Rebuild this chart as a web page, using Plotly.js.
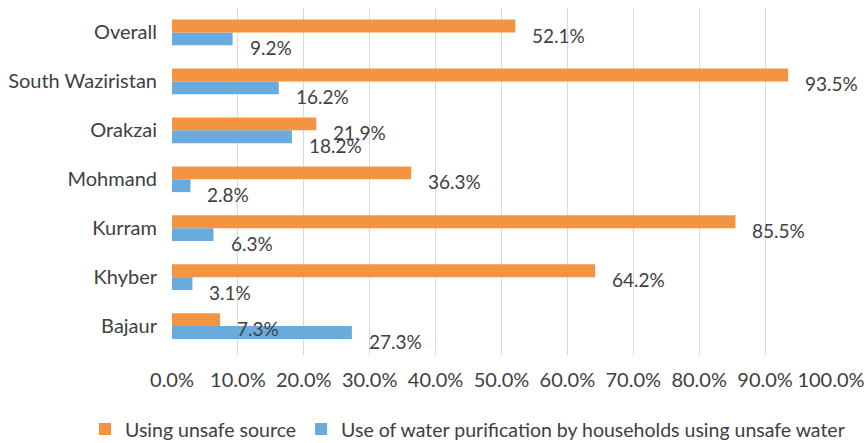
<!DOCTYPE html>
<html><head><meta charset="utf-8">
<script src="https://cdn.plot.ly/plotly-3.0.1.min.js"></script>
<style>html,body{margin:0;padding:0;background:#fff;}#chart{width:868px;height:443px;}</style>
</head><body><div id="chart"></div>
<script>
const categories = ["Bajaur","Khyber","Kurram","Mohmand","Orakzai","South Waziristan","Overall"];
const unsafeSource = [7.3, 64.2, 85.5, 36.3, 21.9, 93.5, 52.1];
const purification = [27.3, 3.1, 6.3, 2.8, 18.2, 16.2, 9.2];
const seriesNames = ["Using unsafe source", "Use of water purification by households using unsafe water"];
const xTicks = [0,10,20,30,40,50,60,70,80,90,100];

const orange = "#F39443", blue = "#6AABDE", txt = "#404040";
const FONT = "Lato, 'Liberation Sans', sans-serif";
const bargap = 0.475;
const half = (1 - bargap) / 4;

const traces = [
  {type:"bar", orientation:"h", name:seriesNames[1], y:categories, x:purification,
   marker:{color:blue}, legendrank:2, hoverinfo:"x"},
  {type:"bar", orientation:"h", name:seriesNames[0], y:categories, x:unsafeSource,
   marker:{color:orange}, legendrank:1, hoverinfo:"x"}
];

const annotations = [];
categories.forEach((c,i)=>{
  annotations.push({x:unsafeSource[i], y:i+half, xref:"x", yref:"y", text:unsafeSource[i].toFixed(1)+"%",
    showarrow:false, xanchor:"left", yanchor:"middle", xshift:15, yshift:-9, font:{size:19,color:txt,family:FONT}});
  annotations.push({x:purification[i], y:i-half, xref:"x", yref:"y", text:purification[i].toFixed(1)+"%",
    showarrow:false, xanchor:"left", yanchor:"middle", xshift:15, yshift:-9, font:{size:19,color:txt,family:FONT}});
});

const layout = {
  width:868, height:443,
  margin:{l:172, r:37, t:8, b:88, autoexpand:false},
  paper_bgcolor:"#fff", plot_bgcolor:"#fff",
  font:{family:FONT, size:20, color:txt},
  barmode:"group", bargap:bargap, bargroupgap:0,
  xaxis:{range:[0,100], tickvals:xTicks, ticktext:xTicks.map(v=>v.toFixed(1)+"%"),
    showgrid:true, gridcolor:"#D9D9D9", gridwidth:1, zeroline:false, showline:false,
    ticks:"", ticklabelstandoff:11, tickfont:{size:20,color:txt,family:FONT}, fixedrange:true},
  yaxis:{type:"category", categoryorder:"array", categoryarray:categories,
    showgrid:false, zeroline:false, showline:false, ticks:"", ticklabelstandoff:14,
    tickfont:{size:20,color:txt,family:FONT}, fixedrange:true},
  showlegend:true,
  legend:{orientation:"h", x:-0.132, xanchor:"left",
    y:-0.158, yanchor:"top", font:{size:19.5,color:txt,family:FONT}, itemwidth:30,
    bgcolor:"rgba(0,0,0,0)"},
  annotations:annotations
};
Plotly.newPlot("chart", traces, layout, {displayModeBar:false, staticPlot:true});
</script></body></html>
